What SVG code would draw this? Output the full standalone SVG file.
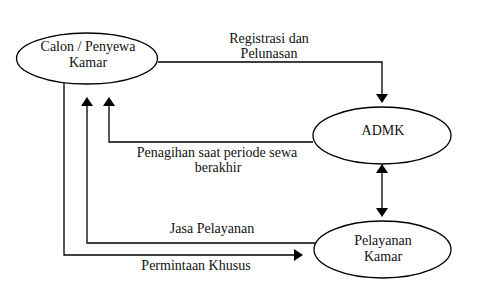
<svg xmlns="http://www.w3.org/2000/svg" width="480" height="297" viewBox="0 0 480 297">
  <style>
    .node ellipse { fill: #ffffff; stroke: #000000; stroke-width: 1.3; }
    .conn { fill: none; stroke: #000000; stroke-width: 1.3; }
    .lbl { font-family: 'Liberation Serif', 'Times New Roman', serif; font-size: 14px; fill: #111111; text-anchor: middle; }
  </style>
  <rect width="480" height="297" fill="#ffffff"/>

  <g id="connectors">
    <!-- Registrasi dan Pelunasan -->
    <path class="conn" d="M158,62 H382 V98" />
    <polygon points="376,94 388,94 382,103" fill="#000"/>
    <!-- Penagihan saat periode sewa berakhir -->
    <path class="conn" d="M313,142 H109 V104" />
    <polygon points="103,106 115,106 109,97" fill="#000"/>
    <!-- Jasa Pelayanan -->
    <path class="conn" d="M315,243 H87 V104" />
    <polygon points="81,106 93,106 87,97" fill="#000"/>
    <!-- Permintaan Khusus -->
    <path class="conn" d="M64,83 V255 H296" />
    <polygon points="294,249 294,261 303,255" fill="#000"/>
    <!-- ADMK <-> Pelayanan Kamar -->
    <path class="conn" d="M382,170 V212" />
    <polygon points="376,173 388,173 382,164" fill="#000"/>
    <polygon points="376,208 388,208 382,217" fill="#000"/>
  </g>

  <g id="labels">
    <text class="lbl" x="269" y="43">Registrasi dan</text>
    <text class="lbl" x="269" y="58">Pelunasan</text>
    <text class="lbl" x="217" y="157">Penagihan saat periode sewa</text>
    <text class="lbl" x="218" y="172">berakhir</text>
    <text class="lbl" x="212" y="233">Jasa Pelayanan</text>
    <text class="lbl" x="196" y="270">Permintaan Khusus</text>
  </g>

  <g id="calon" class="node">
    <ellipse cx="87" cy="58.5" rx="70.5" ry="25.5"/>
    <text class="lbl" x="88" y="51">Calon / Penyewa</text>
    <text class="lbl" x="88" y="67">Kamar</text>
  </g>

  <g id="admk" class="node">
    <ellipse cx="382" cy="135.5" rx="69" ry="28.5"/>
    <text class="lbl" x="383" y="135">ADMK</text>
  </g>

  <g id="pelayanan" class="node">
    <ellipse cx="382.5" cy="249.5" rx="68.5" ry="28.5"/>
    <text class="lbl" x="383" y="245">Pelayanan</text>
    <text class="lbl" x="383" y="261">Kamar</text>
  </g>
</svg>
